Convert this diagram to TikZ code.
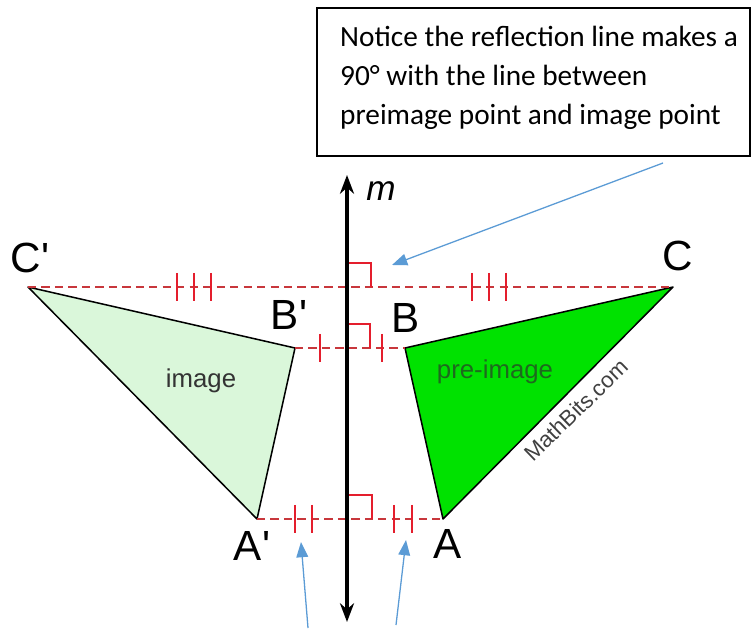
\documentclass[tikz,border=0pt]{standalone}
\usepackage{fontspec}
\setmainfont{Liberation Sans}
\newfontfamily\notefont{Carlito}
\usetikzlibrary{arrows.meta}
\definecolor{mirrorred}{RGB}{200,55,60}
\definecolor{tickred}{RGB}{228,30,45}
\definecolor{imagegreen}{RGB}{218,247,218}
\definecolor{pregreen}{RGB}{0,226,0}
\definecolor{textgreen}{RGB}{30,105,30}
\definecolor{noteblue}{RGB}{91,155,213}

\begin{document}
\begin{tikzpicture}[x=0.03cm, y=-0.03cm,
    mirror/.style={draw=mirrorred, line width=1.2pt, dash pattern=on 7pt off 4.5pt},
    tickmark/.style={draw=tickred, line width=1.8pt},
    rightmark/.style={draw=tickred, line width=1.3pt},
    tri/.style={draw=black, line width=1.3pt, line join=round},
    vlabel/.style={font=\fontsize{36}{36}\selectfont, inner sep=0pt},
    shapelabel/.style={font=\fontsize{22}{22}\selectfont, inner sep=0pt},
    note/.style={-{Triangle[length=13pt, width=10pt]}, noteblue, line width=1.1pt},
    axis/.style={{Stealth[length=16pt, width=12pt]}-{Stealth[length=16pt, width=12pt]}, line width=3.5pt}]

\useasboundingbox (0,0) rectangle (751,629);

% vertices
\coordinate (Cp) at (28,287);
\coordinate (Bp) at (295,348);
\coordinate (Ap) at (257,519);
\coordinate (C) at (673,287);
\coordinate (B) at (405,348);
\coordinate (A) at (443,519);

% triangles
\draw[tri, fill=imagegreen] (Cp) -- (Bp) -- (Ap) -- cycle;
\draw[tri, fill=pregreen] (C) -- (B) -- (A) -- cycle;

% lines between preimage and image points
\draw[mirror] (Cp) -- (C);
\draw[mirror] (Bp) -- (B);
\draw[mirror] (Ap) -- (A);

% congruence ticks
\foreach \x in {177,194,211,472,489,506}
  \draw[tickmark] (\x,273) -- (\x,301);
\foreach \x in {320,382}
  \draw[tickmark] (\x,334) -- (\x,362);
\foreach \x in {295,312,394,412}
  \draw[tickmark] (\x,505) -- (\x,533);

% right angles
\draw[rightmark] (347,263) -| (371,287);
\draw[rightmark] (347,324) -| (370,348);
\draw[rightmark] (347,495) -| (372,519);

% reflection line m
\coordinate (mbot) at (347,622);
\coordinate (mtop) at (347,175);
\draw[axis] (mbot) -- (mtop);
\node[font=\fontsize{30}{30}\selectfont\rmfamily\itshape, inner sep=0pt] (mlabel) at (381,191) {m};

% labels
\node[vlabel] (lblCp) at (30,258) {C\textquotesingle};
\node[vlabel] (lblBp) at (289,315) {B\textquotesingle};
\node[vlabel] (lblAp) at (252,546) {A\textquotesingle};
\node[vlabel] (lblC) at (678,256) {C};
\node[vlabel] (lblB) at (406,318) {B};
\node[vlabel] (lblA) at (448,544) {A};

\node[shapelabel, text=black!80] (lblimage) at (201,381) {image};
\node[shapelabel, text=textgreen] (lblpre) at (495,372) {pre-image};
\node[font=\fontsize{19}{19}\selectfont, text=black!75, rotate=44, inner sep=0pt] (lblsite) at (576,410) {MathBits.com};

% callout
\draw[line width=1.3pt] (317,8) rectangle (750,156);
\node[font=\notefont\fontsize{25}{33.3}\selectfont, align=left, anchor=north west, inner sep=0pt] (notetext) at (340,26)
  {Notice the reflection line makes a\\90° with the line between\\preimage point and image point};

% pointers
\coordinate (notetail) at (663,163);
\coordinate (notetip) at (392,265);
\coordinate (lefttail) at (308,628);
\coordinate (lefttip) at (301,542);
\coordinate (righttail) at (396,625);
\coordinate (righttip) at (406,540);
\draw[note] (notetail) -- (notetip);
\draw[note] (lefttail) -- (lefttip);
\draw[note] (righttail) -- (righttip);

\end{tikzpicture}
\end{document}
